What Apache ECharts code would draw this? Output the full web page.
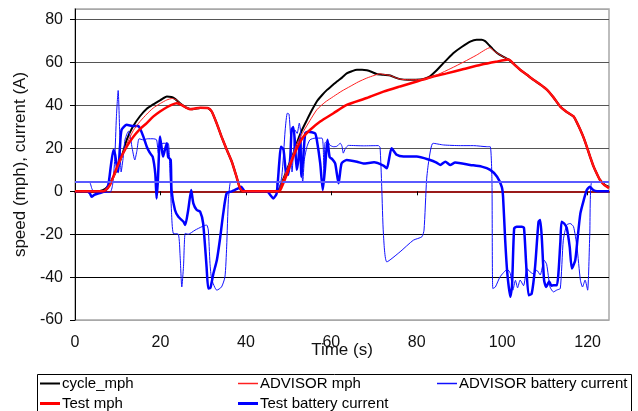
<!DOCTYPE html>
<html>
<head>
<meta charset="utf-8">
<script src="https://cdn.jsdelivr.net/npm/echarts@6/dist/echarts.min.js"></script>
<style>html,body{margin:0;padding:0;background:#fff}#c{width:638px;height:411px}</style>
</head>
<body>
<div id="c"></div>
<script>
// ---- data (time s, value) ----
const cycleMph = [[0,0],[5,0],[6.5,0.5],[7.8,2.5],[8.8,6],[10.1,11.5],[11.2,18],[12.1,24],[13.5,30],[15.2,35],[16.8,38.5],[18.3,40.5],[20,42.5],[21.5,44.2],[22.6,44],[23.5,43],[24.5,41.2],[26,39],[27.5,38.3],[29.3,38.8],[31,38.8],[32,37.2],[33.2,31.5],[34.3,25.5],[35.5,19.5],[36.7,13.8],[37.7,7.5],[38.6,1.5],[39.2,0],[47.3,0],[48.2,3],[49.6,10],[51,17],[51.9,22.4],[53,28],[54.3,33.3],[55.5,38],[56.6,41.9],[57.8,44.8],[59,47.3],[60.2,49.3],[61.3,51.2],[62.5,53],[63.6,55],[64.8,56],[66,56.7],[67.2,56.7],[68.3,56.4],[69.5,55.6],[70.6,54.7],[72.2,54.3],[73.8,54],[75,53],[76.1,52.3],[78,52],[80.8,52.1],[82,52.6],[83.1,53.6],[84.3,55.7],[85.5,58.2],[87,61.3],[88.6,64.5],[90.5,67.3],[92.5,69.8],[94,70.7],[95.2,70.7],[96,70],[96.8,68.4],[97.8,66.3],[98.8,64.5],[100,63],[101.5,61.4],[102.8,59.2],[104.2,56.7],[105.8,54.3],[107.3,52],[109,49.7],[110.5,47.3],[112,43.8],[113.6,39.5],[115.1,37],[116.7,34.9],[117.5,32],[118.3,28.6],[119.1,24.8],[119.8,20.8],[120.6,16],[121.4,11.5],[122.2,8],[122.9,5.3],[124,3],[125,2]];

const advisorMph = [[0,0],[5.5,0],[7,0.5],[8,2.5],[9,6],[10.1,11.5],[11.2,17],[12.1,22],[13.7,28.5],[15.2,32.5],[16.8,36],[18.3,38.8],[20,41],[21.5,42.6],[22.8,43.3],[23.8,42.5],[24.5,41.2],[26,39],[27.5,38.3],[29.3,38.8],[31,38.8],[32,37.2],[33.2,31.5],[34.3,25.5],[35.5,19.5],[36.7,13.8],[37.7,7.5],[38.6,1.5],[39.2,0],[47.5,0],[48.2,3],[49.6,10],[51,17],[52,22.5],[53.5,28],[55,33],[56.6,38],[58.5,41.5],[60.5,44.2],[62.5,46.8],[64.4,48.9],[66.3,51],[68.3,52.8],[70,54],[71.4,54.8],[72.2,54.5],[73.8,54],[75,53],[76.1,52.3],[78,52],[80.8,52.1],[82.4,52.5],[85,54.5],[88,57.3],[91,60.3],[94,63.5],[97.2,67],[98,65.5],[98.8,64.5],[100,63],[101.5,61.4],[102.8,59.2],[104.2,56.7],[105.8,54.3],[107.3,52],[109,49.7],[110.5,47.3],[112,43.8],[113.6,39.5],[115.1,37],[116.7,34.9],[117.5,32],[118.3,28.6],[119.1,24.8],[119.8,20.8],[120.6,16],[121.4,11.5],[122.2,8],[122.9,5.3],[124,3],[125,2]];

const testMph = [[0,0],[6,0],[7,0.3],[8.2,3],[9.4,9.2],[10.5,14.6],[12,20.5],[13.7,25.5],[15.2,29],[16.8,31.8],[18.3,34.8],[19.9,37.2],[21.5,39.2],[22.6,40.3],[23.8,41],[25,40.2],[26,39],[26.9,38.3],[28,38.6],[29.3,39],[31.2,38.8],[32,37.2],[33.2,31.5],[34.3,25.5],[35.5,19.5],[36.7,13.8],[37.7,7.5],[38.6,1.5],[39.3,0],[47.8,0],[48.6,3],[49.8,9],[51.1,16.2],[52.3,21.5],[53.5,25.5],[55,28.6],[57.4,32.5],[60.5,36.4],[63.6,40.3],[68.3,43.5],[72.2,46.5],[76.1,48.9],[80,51.2],[83.1,53.1],[87,55],[91,57],[95,59],[98.5,60.4],[101.5,61.4],[102.8,59.2],[104.2,56.7],[105.8,54.3],[107.3,52],[109,49.7],[110.5,47.3],[112,43.8],[113.6,39.5],[115.1,37],[116.7,34.9],[117.5,32],[118.3,28.6],[119.1,24.8],[119.8,20.8],[120.6,16],[121.4,11.5],[122.2,8],[122.9,5.3],[124,2.8],[125,1.5]];

const advisorCurrent = [[0,4.5],[3.3,4.5],[4,1],[4.7,-0.8],[6,-0.5],[8.2,-0.5],[8.8,3],[9.3,15],[9.7,35],[10.1,47],[10.5,25],[10.8,9],[11.3,16],[11.7,24],[12.5,28],[13,25],[13.3,21],[14,14.6],[14.5,19],[15,24.5],[16,24],[17,24.5],[18.3,24.5],[19.1,24],[19.5,17.8],[19.9,21],[20.6,22.4],[21.8,22.4],[22.2,10],[22.6,-10],[23,-19.6],[24.2,-20],[24.6,-30],[25,-44.6],[25.4,-35],[25.8,-19.6],[26.5,-20],[28.1,-18.1],[29.7,-16.5],[30.8,-15.7],[31.2,-18],[31.6,-33.6],[32,-41],[33.2,-46.1],[34.3,-44.6],[35.1,-39.9],[35.5,-25.9],[35.9,-4],[36.3,3.7],[36.7,4.5],[47,4.5],[47.5,0],[48.4,6.8],[49.2,28.6],[49.7,36.4],[50.1,36],[50.5,24],[50.8,9],[51.2,20],[51.5,28.6],[52,27],[52.5,31.8],[52.8,28],[53.1,10],[53.3,4],[53.7,15],[54.3,20.8],[55,24],[56.2,24.8],[57.8,24.8],[58.1,20.8],[58.3,5.3],[58.5,22.4],[59,23.5],[59.7,21.5],[60.5,20.8],[61.3,21],[62.1,22.4],[62.5,21],[62.8,17.8],[63.3,20],[64,21.4],[67.5,21.2],[71,21.3],[71.4,20.5],[71.8,2.1],[72.2,-20],[73,-32.9],[76.1,-28.2],[79.2,-22.8],[81.2,-21.2],[81.7,-18.1],[82.3,5.3],[82.8,14],[83.8,22.4],[86.3,21.6],[90.2,21.3],[93.3,21.3],[96.4,20.8],[97.2,20.8],[97.6,5.3],[97.8,-45.3],[98.4,-44.6],[99.5,-39.9],[101.2,-36.4],[101.9,-38.3],[102.5,-46.1],[103.1,-41.5],[103.6,-45],[104.2,-41.4],[105,-44],[105.8,-36],[106.5,-37.5],[107.3,-38.5],[108.1,-36.8],[108.9,-39],[109.8,-32.1],[110.4,-34],[111.2,-44.6],[112,-46.9],[112.8,-46],[113.6,-45.3],[114.3,-22.8],[115.1,-15.7],[115.9,-15],[116.7,-16.5],[117.5,-25.9],[118.3,-41.4],[118.8,-44.6],[119.4,-41.4],[120,-46.1],[120.5,-20],[121,4.5],[125,4.5]];

const testCurrent = [[0,0],[2.8,0],[3.5,-1],[3.9,-2.5],[4.5,-1.7],[5.4,-1],[7,0],[7.8,3],[8.4,12],[9,19.3],[9.4,17],[9.8,11.5],[10.1,9],[10.5,20],[10.9,28.6],[12.1,31],[13.7,30.4],[14.8,30.4],[15.2,29.4],[16,25.5],[16.8,20.8],[17.5,18],[18.2,16],[18.8,8],[19.1,-3.3],[19.4,5],[19.9,25.5],[20.3,20],[20.6,16.2],[21,19],[21.5,22.4],[21.8,16],[22.4,14.6],[22.6,0.6],[23.4,-8.7],[24.2,-11.9],[25.4,-14.2],[25.8,-15.7],[26.5,-8.7],[27.2,0.6],[27.7,-5.6],[28.5,-8.7],[29.3,-9.5],[30,-15],[30.8,-35.2],[31.2,-45.3],[31.7,-45],[32.4,-38.3],[33.2,-32.1],[33.9,-22.8],[34.7,-10.3],[35.5,-0.9],[36.7,0],[38.2,1.4],[38.9,2.1],[39.8,0],[45,0],[45.7,-1.7],[46.4,-3.3],[47.2,-1],[47.8,13],[48.2,20.8],[48.8,19.5],[49.4,8.4],[49.9,7.7],[50.4,16.2],[50.7,28.6],[51.1,30],[51.5,22.4],[51.9,10],[52.3,15],[52.7,25.5],[53,6.8],[53.4,15],[53.9,27.1],[54.6,27.8],[56.2,27],[56.6,24],[57.4,13],[58,0.6],[58.5,10],[59.1,24],[59.6,16],[60.2,15],[60.9,13],[61.7,3.7],[62.4,13],[63.6,14.6],[66,13.8],[67.5,13],[70,13.5],[72.2,12],[73,10.7],[74.1,20.1],[75.3,17],[76.9,16.2],[80,16.2],[83.1,14.6],[84.5,13.5],[85.5,12.3],[86.7,13.8],[87.8,12.3],[89,13.4],[92.5,12.3],[95.2,11.5],[97.2,10],[98.8,6.8],[99.9,2.1],[100.2,-2.5],[100.7,-22.8],[101.2,-38.3],[101.9,-49.2],[102.3,-44],[102.8,-17.3],[103.4,-16.5],[104.6,-16.5],[105.1,-17],[105.6,-33.6],[106.2,-48.5],[106.9,-47.7],[107.7,-35.2],[108.5,-14.2],[108.9,-13.4],[109.3,-22.8],[109.8,-41.4],[110.3,-44.6],[111,-42],[111.5,-44],[112,-43.8],[112.8,-43.8],[113.6,-24.3],[113.9,-14.2],[114.5,-15],[115.1,-17],[115.8,-25.9],[116.3,-36],[117.1,-32.1],[117.6,-22.8],[118.3,-10.3],[119.1,-4],[119.8,0.6],[120.5,2.1],[121.3,0.6],[122.2,0],[125,0]];

const baselineCurrent = 4.5;
const seriesNames = ['cycle_mph','ADVISOR mph','ADVISOR battery current','Test mph','Test battery current'];
const yTickMin = -60, yTickMax = 85, yStep = 20;
const xMin = 0, xMax = 125, xStep = 20;

const FONT = 'Liberation Sans, Arial, sans-serif';
const chart = echarts.init(document.getElementById('c'), null, {renderer:'canvas'});

function legendAt(name, left, top, h) {
  return {
    data:[name], left:left, top:top, padding:0, itemWidth:20, itemHeight:h, icon:'rect',
    itemGap:0, textStyle:{fontFamily:FONT, fontSize:15, color:'#000', padding:[0,0,0,-3]},
    selectedMode:false
  };
}

chart.setOption({
  animation:false,
  backgroundColor:'#fff',
  grid:{left:75, right:29, top:9, bottom:91, show:true, borderColor:'#a8a8a8', borderWidth:1.5, containLabel:false},
  legend:[
    legendAt(seriesNames[0], 40, 376, 2),
    legendAt(seriesNames[1], 238, 376, 1.5),
    legendAt(seriesNames[2], 437, 376, 1.5),
    legendAt(seriesNames[3], 40, 396, 3),
    legendAt(seriesNames[4], 238, 396, 3)
  ],
  xAxis:{
    type:'value', min:xMin, max:xMax, interval:xStep,
    axisLine:{onZero:true, lineStyle:{color:'#9a1a1a', width:2}},
    axisTick:{show:true, length:4, lineStyle:{color:'#000'}},
    axisLabel:{fontFamily:FONT, fontSize:16, color:'#111', margin:15, showMaxLabel:false},
    splitLine:{show:false}
  },
  yAxis:{
    type:'value', min:yTickMin, max:yTickMax, interval:yStep,
    name:'speed (mph), current (A)', nameLocation:'middle', nameGap:32,
    nameTextStyle:{fontFamily:FONT, fontSize:17, color:'#111'},
    axisLine:{show:true, onZero:false, lineStyle:{color:'#000', width:1}},
    axisTick:{show:true, length:5, lineStyle:{color:'#000'}},
    axisLabel:{fontFamily:FONT, fontSize:16, color:'#111', margin:12, showMaxLabel:false},
    splitLine:{show:true, lineStyle:{width:1, color:['#a8a8a8','#000','#000','#000','#555','#555','#555','#555','#a8a8a8']}}
  },
  graphic:[
    {type:'rect', z:-1, shape:{x:37.5, y:374.5, width:594, height:60}, style:{fill:'#fff', stroke:'#000', lineWidth:1}},
    {type:'text', x:342, y:350, style:{text:'Time (s)', font:'17px ' + FONT, fill:'#111', textAlign:'center', textVerticalAlign:'middle'}}
  ],
  series:[
    {name:seriesNames[0], type:'line', data:cycleMph, showSymbol:false, symbol:'none', smooth:0.2, lineStyle:{color:'#000', width:2}, itemStyle:{color:'#000'}, z:2},
    {name:seriesNames[2], type:'line', data:advisorCurrent, showSymbol:false, symbol:'none', smooth:0.2, lineStyle:{color:'#1010ff', width:1}, itemStyle:{color:'#1010ff'}, z:2,
      markLine:{silent:true, symbol:'none', label:{show:false}, lineStyle:{color:'#5a5aff', width:2, type:'solid'}, data:[{yAxis:baselineCurrent}]}},
    {name:seriesNames[4], type:'line', data:testCurrent, showSymbol:false, symbol:'none', smooth:0.2, lineStyle:{color:'#0000ff', width:2.5}, itemStyle:{color:'#0000ff'}, z:3},
    {name:seriesNames[3], type:'line', data:testMph, showSymbol:false, symbol:'none', smooth:0.2, lineStyle:{color:'#ff0000', width:2.5}, itemStyle:{color:'#ff0000'}, z:4},
    {name:seriesNames[1], type:'line', data:advisorMph, showSymbol:false, symbol:'none', smooth:0.2, lineStyle:{color:'#ff2020', width:1}, itemStyle:{color:'#ff2020'}, z:5}
  ]
});
</script>
</body>
</html>
